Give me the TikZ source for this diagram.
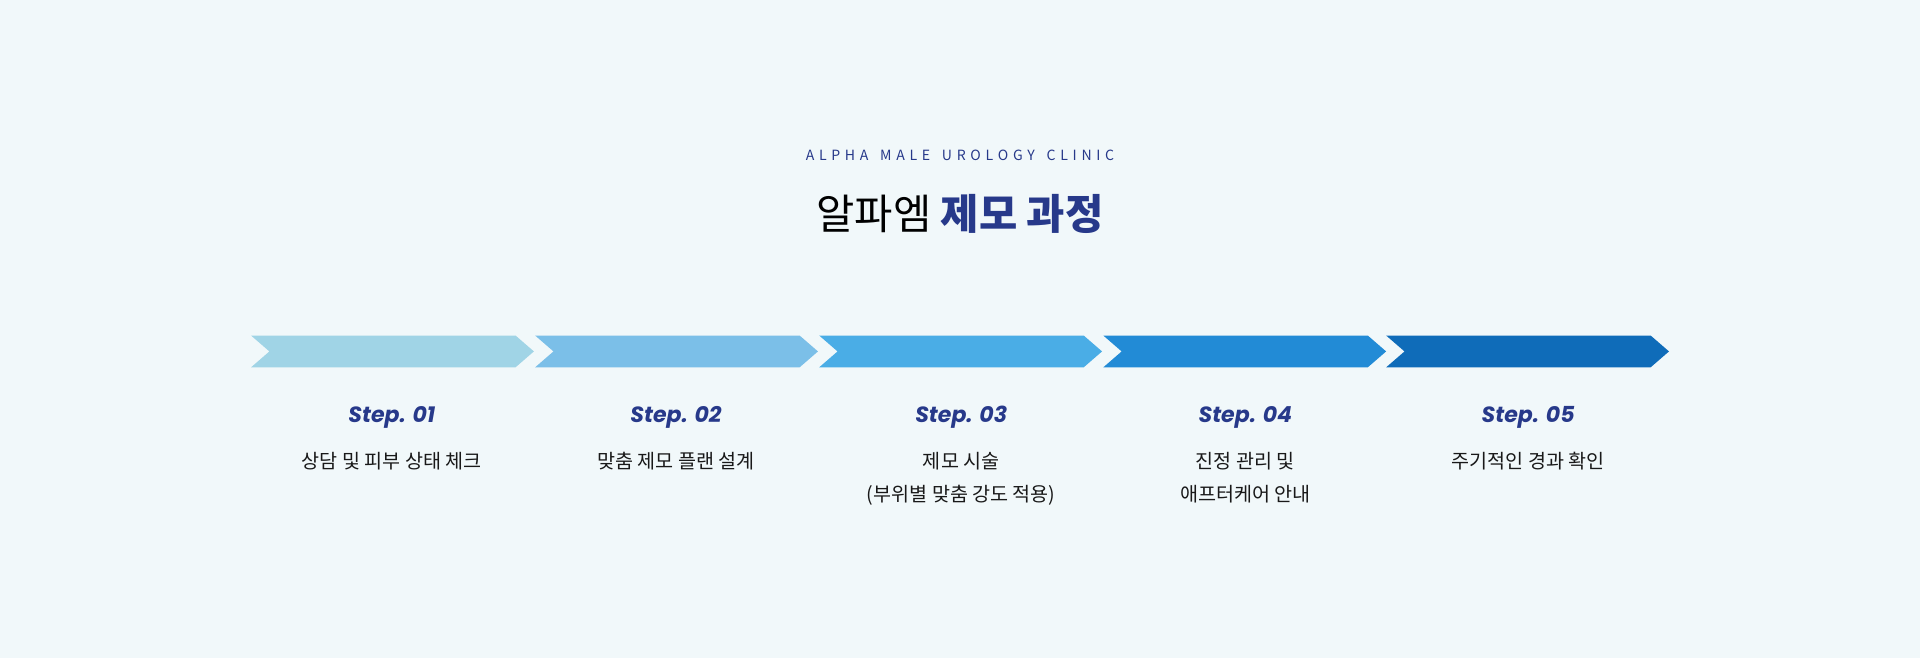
\documentclass[tikz,border=0pt]{standalone}
\usepackage{fontspec}
\newfontfamily\kr{Noto Sans CJK KR}
\newfontfamily\stepf{Poppins}
\definecolor{bg}{HTML}{F1F8FA}
\definecolor{navy}{HTML}{27398A}
\definecolor{ca}{HTML}{A0D4E6}
\definecolor{cb}{HTML}{7BBFE8}
\definecolor{cc}{HTML}{4AADE6}
\definecolor{cd}{HTML}{228BD6}
\definecolor{ce}{HTML}{0F6CB9}
\begin{document}
\begin{tikzpicture}[x=1pt,y=-1pt,
  steplbl/.style={font=\stepf\fontsize{18}{20}\selectfont\bfseries\itshape,text=navy},
  desc/.style={font=\kr\fontsize{16}{27}\selectfont,text=black!90,align=center,anchor=north}]
\fill[bg] (0,0) rectangle (1568,537);
\useasboundingbox (0,0) rectangle (1568,537);
\node (sub) at (784,127) {\kr\fontsize{11.5}{12}\selectfont\color{navy}A\,\,L\,\,P\,\,H\,\,A\,\,\,\,\,M\,\,A\,\,L\,\,E\,\,\,\,\,U\,\,R\,\,O\,\,L\,\,O\,\,G\,\,Y\,\,\,\,\,C\,\,L\,\,I\,\,N\,\,I\,\,C};
\node (title) at (784,175) {\kr\fontsize{34}{36}\selectfont 알파엠 {\bfseries\color{navy}제모 과정}};
\foreach \x/\c/\n in {205/ca/1,437/cb/2,669/cc/3,901/cd/4,1132/ce/5}{
  \fill[\c] (\x,274) -- (\x+216,274) -- (\x+231,287) -- (\x+216,300) -- (\x,300) -- (\x+15,287) -- cycle;
}
\foreach \cx/\n in {320/1,552/2,785/3,1017/4,1248/5}
  \node[steplbl] (s\n) at (\cx,341) {Step. 0\n};
\node[desc] (d1) at (320,366) {상담 및 피부 상태 체크};
\node[desc] (d2) at (552,366) {맞춤 제모 플랜 설계};
\node[desc] (d3) at (785,366) {제모 시술\\(부위별 맞춤 강도 적용)};
\node[desc] (d4) at (1017,366) {진정 관리 및\\애프터케어 안내};
\node[desc] (d5) at (1248,366) {주기적인 경과 확인};
\end{tikzpicture}
\end{document}
